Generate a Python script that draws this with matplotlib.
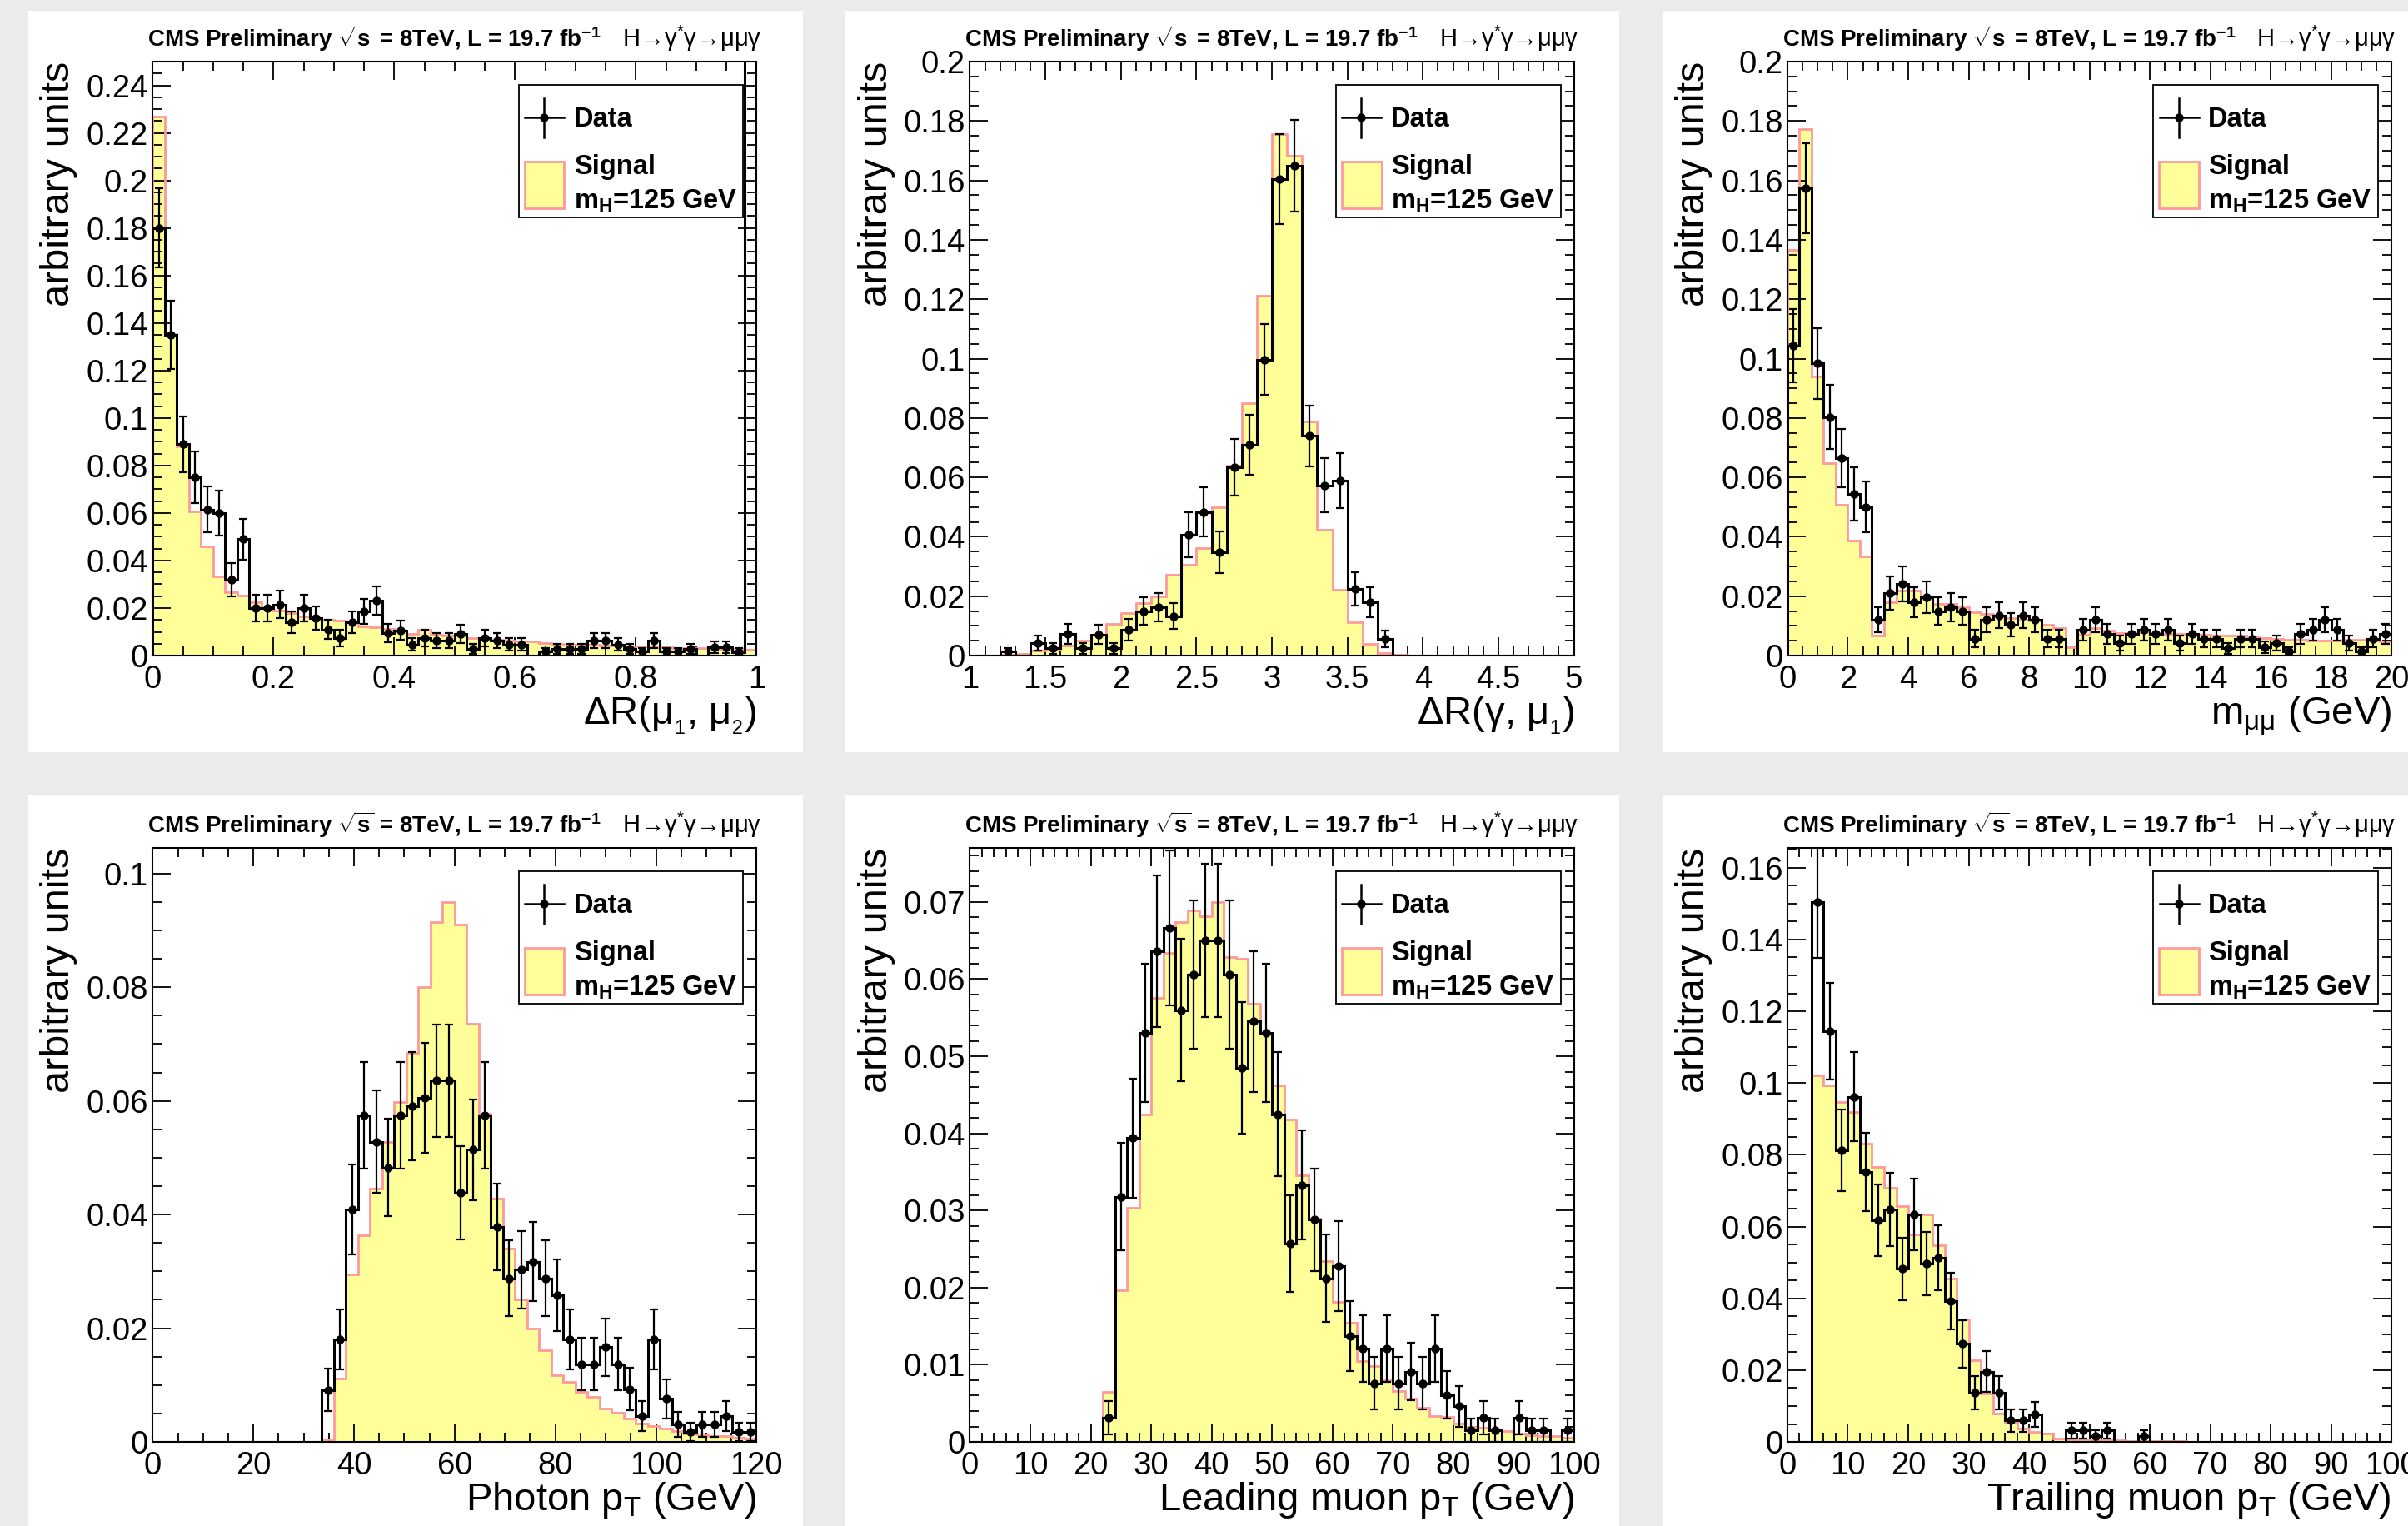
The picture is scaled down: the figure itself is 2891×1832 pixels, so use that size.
import matplotlib as mpl
mpl.use('Agg')
import matplotlib.pyplot as plt
from matplotlib.patches import Rectangle
from matplotlib.ticker import MultipleLocator, FuncFormatter
import numpy as np

plt.rcParams['font.family'] = ['Liberation Sans', 'DejaVu Sans']
plt.rcParams['mathtext.fontset'] = 'custom'
plt.rcParams['mathtext.rm'] = 'Liberation Sans'
plt.rcParams['mathtext.it'] = 'Liberation Sans:italic'
plt.rcParams['mathtext.bf'] = 'Liberation Sans:bold'

# normalised bin contents (last dR(mu,mu) bin is off scale)
dr_mumu_data = [0.180, 0.135, 0.089, 0.075, 0.0615, 0.060, 0.032, 0.049, 0.020, 0.020,
                0.0215, 0.014, 0.020, 0.0157, 0.011, 0.0074, 0.014, 0.0185, 0.023, 0.0094,
                0.0107, 0.0046, 0.0074, 0.0063, 0.0063, 0.0091, 0.0028, 0.0074, 0.0063, 0.0046,
                0.0046, 0.0, 0.0017, 0.0028, 0.0028, 0.0028, 0.0063, 0.0063, 0.0046, 0.0028,
                0.0017, 0.0063, 0.0017, 0.0017, 0.0028, 0.0, 0.0035, 0.0035, 0.0015, 0.30]
dr_mumu_sig = [0.227, 0.1355, 0.088, 0.0608, 0.0458, 0.0334, 0.0268, 0.0251, 0.0223, 0.020,
               0.019, 0.018, 0.0165, 0.0157, 0.015, 0.0149, 0.014, 0.0124, 0.0119, 0.0112,
               0.0107, 0.0091, 0.011, 0.0088, 0.0083, 0.0083, 0.0074, 0.0071, 0.0066, 0.0063,
               0.0058, 0.0058, 0.0053, 0.005, 0.0046, 0.0046, 0.0045, 0.0043, 0.0041, 0.004,
               0.0038, 0.0036, 0.0035, 0.0033, 0.0032, 0.003, 0.0029, 0.0028, 0.0027, 0.0025]

dr_gmu_data = [0.0, 0.0, 0.0013, 0.0, 0.0043, 0.0024, 0.0073, 0.0024, 0.0071, 0.0024,
               0.0087, 0.0149, 0.0163, 0.0133, 0.0407, 0.0483, 0.0347, 0.0633, 0.0709, 0.0996,
               0.1604, 0.165, 0.074, 0.0573, 0.0589, 0.0224, 0.018, 0.0057, 0.0, 0.0,
               0.0, 0.0, 0.0, 0.0, 0.0, 0.0, 0.0, 0.0, 0.0, 0.0]
dr_gmu_sig = [0.0, 0.0, 0.0003, 0.0007, 0.0016, 0.002, 0.0033, 0.0051, 0.0069, 0.0107,
              0.0144, 0.0177, 0.020, 0.0273, 0.0307, 0.0363, 0.050, 0.064, 0.0851, 0.1213,
              0.1757, 0.1684, 0.0789, 0.0424, 0.0223, 0.0113, 0.004, 0.0009, 0.0002, 0.0,
              0.0, 0.0, 0.0, 0.0, 0.0, 0.0, 0.0, 0.0, 0.0, 0.0]

mmumu_data = [0.1044, 0.1573, 0.0984, 0.0803, 0.0664, 0.0544, 0.050, 0.012, 0.0211, 0.024,
              0.018, 0.0197, 0.0149, 0.0163, 0.0149, 0.0057, 0.012, 0.0136, 0.0104, 0.0136,
              0.012, 0.0057, 0.0057, 0.0, 0.0087, 0.012, 0.0073, 0.0043, 0.0073, 0.0087,
              0.0073, 0.0087, 0.0043, 0.0073, 0.0057, 0.0057, 0.0024, 0.0057, 0.0057, 0.0027,
              0.0043, 0.0013, 0.0073, 0.0087, 0.012, 0.0087, 0.0043, 0.0013, 0.0057, 0.0073]
mmumu_sig = [0.1367, 0.1773, 0.094, 0.0649, 0.0507, 0.0387, 0.0333, 0.0067, 0.018, 0.022,
             0.022, 0.0193, 0.0173, 0.0173, 0.0163, 0.0147, 0.014, 0.0133, 0.0127, 0.012,
             0.0117, 0.0104, 0.0093, 0.0027, 0.0069, 0.0093, 0.0083, 0.0077, 0.0077, 0.008,
             0.0077, 0.0073, 0.0073, 0.0069, 0.0069, 0.0067, 0.0067, 0.0067, 0.0064, 0.006,
             0.0056, 0.0053, 0.0053, 0.0051, 0.0051, 0.0051, 0.0053, 0.0053, 0.0051, 0.0047]

pt_gamma_data = [0.0, 0.0, 0.0, 0.0, 0.0, 0.0, 0.0, 0.0, 0.0, 0.0,
                 0.0, 0.0, 0.0, 0.0, 0.0091, 0.0181, 0.0409, 0.0575, 0.0528, 0.0483,
                 0.0575, 0.059, 0.0605, 0.0636, 0.0636, 0.0438, 0.0514, 0.0575, 0.0378, 0.0288,
                 0.0303, 0.0317, 0.0288, 0.0258, 0.0181, 0.0137, 0.0137, 0.0167, 0.0137, 0.0093,
                 0.0046, 0.0181, 0.0076, 0.0031, 0.0017, 0.0031, 0.0031, 0.0046, 0.0017, 0.0017]
pt_gamma_sig = [0.0, 0.0, 0.0, 0.0, 0.0, 0.0, 0.0, 0.0, 0.0, 0.0,
                0.0, 0.0, 0.0, 0.0, 0.0005, 0.0112, 0.0294, 0.0364, 0.0445, 0.0528,
                0.0598, 0.0685, 0.0801, 0.0915, 0.095, 0.091, 0.0736, 0.0578, 0.0428, 0.034,
                0.025, 0.020, 0.0162, 0.0117, 0.0106, 0.0088, 0.0079, 0.0058, 0.0052, 0.0041,
                0.0032, 0.0028, 0.0023, 0.0019, 0.0015, 0.0014, 0.001, 0.001, 0.0008, 0.0006]

pt_lead_data = [0.0, 0.0, 0.0, 0.0, 0.0, 0.0, 0.0, 0.0, 0.0, 0.0,
                0.0, 0.0031, 0.0318, 0.0394, 0.053, 0.0636, 0.0666, 0.056, 0.0606, 0.065,
                0.065, 0.0606, 0.0485, 0.0545, 0.053, 0.0425, 0.0257, 0.0333, 0.0288, 0.0212,
                0.0228, 0.0137, 0.0121, 0.0076, 0.0121, 0.0076, 0.0091, 0.0076, 0.0121, 0.0061,
                0.0046, 0.0015, 0.0031, 0.0015, 0.0, 0.0031, 0.0015, 0.0015, 0.0, 0.0015]
pt_lead_sig = [0.0, 0.0, 0.0, 0.0, 0.0, 0.0, 0.0, 0.0, 0.0, 0.0,
               0.0, 0.0065, 0.0197, 0.0304, 0.0425, 0.0576, 0.0634, 0.0674, 0.0689, 0.0682,
               0.070, 0.0629, 0.0626, 0.0568, 0.053, 0.0462, 0.0418, 0.0346, 0.029, 0.0234,
               0.0182, 0.0154, 0.0105, 0.0098, 0.008, 0.0066, 0.0056, 0.0044, 0.0033, 0.0032,
               0.0024, 0.002, 0.0018, 0.0015, 0.0014, 0.0011, 0.0009, 0.0008, 0.0008, 0.0006]

pt_trail_data = [0.0, 0.0, 0.1505, 0.1144, 0.0812, 0.0962, 0.0752, 0.0617, 0.0648, 0.0482,
                 0.0634, 0.0497, 0.0514, 0.0393, 0.0273, 0.0137, 0.0196, 0.0137, 0.006, 0.006,
                 0.0077, 0.0, 0.0, 0.0032, 0.0032, 0.0016, 0.0032, 0.0, 0.0, 0.0016,
                 0.0, 0.0, 0.0, 0.0, 0.0, 0.0, 0.0, 0.0, 0.0, 0.0,
                 0.0, 0.0, 0.0, 0.0, 0.0, 0.0, 0.0, 0.0, 0.0, 0.0]
pt_trail_sig = [0.0, 0.0, 0.1022, 0.0993, 0.0946, 0.0919, 0.0832, 0.0766, 0.0708, 0.0656,
                0.0577, 0.0634, 0.0549, 0.0454, 0.0341, 0.0227, 0.0134, 0.0079, 0.0054, 0.0038,
                0.0027, 0.0024, 0.001, 0.0008, 0.0007, 0.0005, 0.0005, 0.0004, 0.0003, 0.0003,
                0.0002, 0.0002, 0.0002, 0.0001, 0.0001, 0.0001, 0.0, 0.0, 0.0, 0.0,
                0.0, 0.0, 0.0, 0.0, 0.0, 0.0, 0.0, 0.0, 0.0, 0.0]

# number of data events per plot (sets the poisson error bars)
n_events = [650, 700, 690, 650, 660, 625]

panels = [
    dict(data=dr_mumu_data, sig=dr_mumu_sig, xlo=0, xhi=1, ymax=0.25,
         xmaj=0.2, xmin=0.05, ymaj=0.02, ymin=0.005, xlabel=r'ΔR(μ$_{_1}$, μ$_{_2}$)'),
    dict(data=dr_gmu_data, sig=dr_gmu_sig, xlo=1, xhi=5, ymax=0.2,
         xmaj=0.5, xmin=0.1, ymaj=0.02, ymin=0.005, xlabel=r'ΔR(γ, μ$_{_1}$)'),
    dict(data=mmumu_data, sig=mmumu_sig, xlo=0, xhi=20, ymax=0.2,
         xmaj=2, xmin=0.5, ymaj=0.02, ymin=0.005, xlabel=r'm$_{\mathrm{μμ}}$ (GeV)'),
    dict(data=pt_gamma_data, sig=pt_gamma_sig, xlo=0, xhi=120, ymax=0.1045,
         xmaj=20, xmin=5, ymaj=0.02, ymin=0.005, xlabel=r'Photon p$_\mathrm{T}$ (GeV)'),
    dict(data=pt_lead_data, sig=pt_lead_sig, xlo=0, xhi=100, ymax=0.077,
         xmaj=10, xmin=2, ymaj=0.01, ymin=0.002, xlabel=r'Leading muon p$_\mathrm{T}$ (GeV)'),
    dict(data=pt_trail_data, sig=pt_trail_sig, xlo=0, xhi=100, ymax=0.1655,
         xmaj=10, xmin=2, ymaj=0.02, ymin=0.005, xlabel=r'Trailing muon p$_\mathrm{T}$ (GeV)'),
]

YELLOW = '#ffff99'
PINK = '#ff9999'

fig = plt.figure(figsize=(28.91, 18.32), dpi=100)
fig.patch.set_facecolor('#ebebeb')

# white pads behind each plot
pad_x = [(0.0118, 0.3217), (0.3507, 0.3217), (0.6908, 0.3092)]
pad_y = [(0.5071, 0.4858), (0.0, 0.4787)]
for (py, ph) in pad_y:
    for (px, pw) in pad_x:
        fig.add_artist(Rectangle((px, py), pw, ph, transform=fig.transFigure,
                                 facecolor='white', edgecolor='none', zorder=-5))

ax_left = [0.0634, 0.4028, 0.7423]
ax_bottom = [0.5704, 0.0551]
ax_w, ax_h = 0.2508, 0.3892


def fmt(v, pos):
    return f'{v:g}'


def draw_legend(ax):
    tr = ax.transAxes
    ax.add_patch(Rectangle((0.606, 0.738), 0.372, 0.223, transform=tr, facecolor='white',
                           edgecolor='black', lw=1.3, zorder=6))
    ax.plot([0.616, 0.681], [0.906, 0.906], transform=tr, color='black', lw=1.8, zorder=7)
    ax.plot([0.648, 0.648], [0.873, 0.939], transform=tr, color='black', lw=1.8, zorder=7)
    ax.plot([0.648], [0.906], 'o', transform=tr, color='black', ms=6.5, zorder=7)
    ax.text(0.697, 0.8906, 'Data', transform=tr, fontsize=23.5, fontweight='bold',
            va='baseline', ha='left', zorder=8)
    ax.add_patch(Rectangle((0.6155, 0.753), 0.066, 0.079, transform=tr, facecolor=YELLOW,
                           edgecolor=PINK, lw=2.0, zorder=7))
    ax.text(0.697, 0.811, 'Signal', transform=tr, fontsize=23.5, fontweight='bold',
            va='baseline', ha='left', zorder=8)
    ax.text(0.697, 0.752, r'm$_{\mathbf{H}}$=125 GeV', transform=tr, fontsize=23.5,
            fontweight='bold', va='baseline', ha='left', zorder=8)


for i, p in enumerate(panels):
    row, col = divmod(i, 3)
    ax = fig.add_axes([ax_left[col], ax_bottom[row], ax_w, ax_h])
    ax.set_facecolor('white')

    data = np.array(p['data'])
    sig = np.array(p['sig'])
    edges = np.linspace(p['xlo'], p['xhi'], len(data) + 1)
    centers = 0.5 * (edges[1:] + edges[:-1])

    ax.stairs(sig, edges, fill=True, color=YELLOW, lw=0, zorder=1)
    ax.stairs(sig, edges, color=PINK, lw=2.0, zorder=2)
    ax.stairs(data, edges, color='black', lw=2.2, zorder=3)

    n = n_events[i]
    err = np.sqrt(data * n) / n
    m = data > 0
    ax.errorbar(centers[m], data[m], yerr=err[m], fmt='o', color='black', ms=6.5,
                elinewidth=1.6, capsize=3.5, capthick=1.6, zorder=4)

    ax.set_xlim(p['xlo'], p['xhi'])
    ax.set_ylim(0, p['ymax'])
    ax.xaxis.set_major_locator(MultipleLocator(p['xmaj']))
    ax.xaxis.set_minor_locator(MultipleLocator(p['xmin']))
    ax.yaxis.set_major_locator(MultipleLocator(p['ymaj']))
    ax.yaxis.set_minor_locator(MultipleLocator(p['ymin']))
    ax.xaxis.set_major_formatter(FuncFormatter(fmt))
    ax.yaxis.set_major_formatter(FuncFormatter(fmt))

    ax.tick_params(which='both', direction='in', top=True, right=True, width=1.3)
    ax.tick_params(which='major', length=15.5, labelsize=27.5)
    ax.tick_params(which='minor', length=7.8)
    ax.tick_params(axis='x', which='major', pad=8)
    ax.tick_params(axis='y', which='major', pad=4)
    for s in ax.spines.values():
        s.set_linewidth(1.5)
        s.set_zorder(5)

    ax.text(1.0, -82 / 713, p['xlabel'], transform=ax.transAxes, ha='right',
            va='baseline', fontsize=34)
    ax.text(-0.155, 1.0, 'arbitrary units', transform=ax.transAxes, rotation=90,
            ha='center', va='top', fontsize=35)

    ty = 1 + 18 / 713
    ax.text(0.742, ty, r'CMS Preliminary $\sqrt{\mathbf{s}}$ = 8TeV, L = 19.7 fb$^{\mathbf{-1}}$',
            transform=ax.transAxes, ha='right', va='baseline', fontsize=20, fontweight='bold')
    ax.text(0.777, ty, r'H→γ$^{*}$γ→μμγ', transform=ax.transAxes, ha='left',
            va='baseline', fontsize=21)

    draw_legend(ax)

fig.savefig('out.png', dpi=100, facecolor=fig.get_facecolor())
